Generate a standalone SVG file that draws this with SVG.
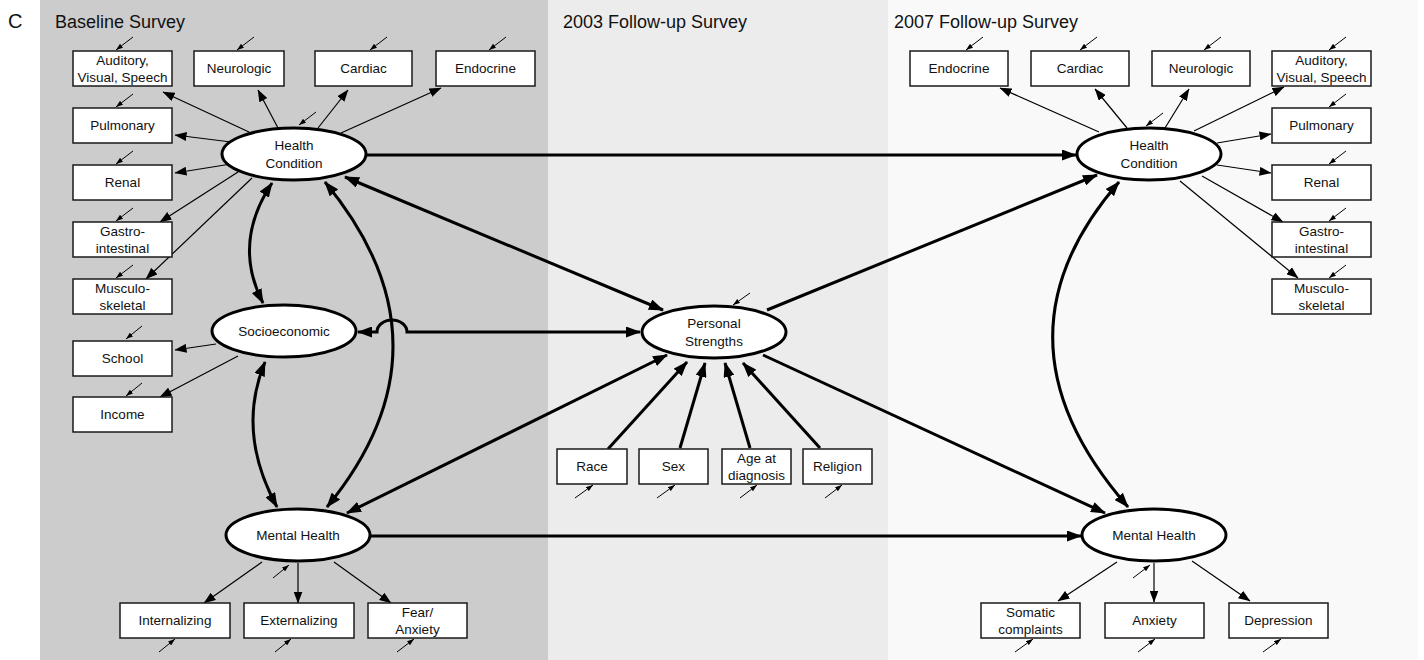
<svg xmlns="http://www.w3.org/2000/svg" width="1424" height="660" viewBox="0 0 1424 660">
<style>
.box{fill:#fff;stroke:#1a1a1a;stroke-width:1.5}
.ell{fill:#fff;stroke:#000;stroke-width:3}
.lbl{font-family:"Liberation Sans",Arial,sans-serif;font-size:13.5px;text-anchor:middle;fill:#111}
.ttl{font-family:"Liberation Sans",Arial,sans-serif;font-size:18px;fill:#111}
.thick{stroke:#000;stroke-width:3;fill:none}
.thin{stroke:#000;stroke-width:1.2;fill:none}
.err{stroke:#000;stroke-width:1;fill:none}
</style>
<defs>
<marker id="ah" markerUnits="userSpaceOnUse" viewBox="0 0 15 11" markerWidth="15" markerHeight="11" refX="14" refY="5.5" orient="auto-start-reverse"><path d="M0,0 L15,5.5 L0,11 z" fill="#000"/></marker>
<marker id="at" markerUnits="userSpaceOnUse" viewBox="0 0 12 9" markerWidth="12" markerHeight="9" refX="11.5" refY="4.5" orient="auto-start-reverse"><path d="M0,0 L12,4.5 L0,9 z" fill="#000"/></marker>
<marker id="ae" markerUnits="userSpaceOnUse" viewBox="0 0 7 5" markerWidth="7" markerHeight="5" refX="7" refY="2.5" orient="auto"><path d="M0,0 L7,2.5 L0,5 z" fill="#000"/></marker>
</defs>

<g id="panels">
<rect x="40" y="0" width="508" height="660" fill="#cccccc"/>
<rect x="548" y="0" width="340" height="660" fill="#ececec"/>
<rect x="888" y="0" width="530" height="660" fill="#f9f9f9"/>
<text class="ttl" x="8" y="28" style="font-size:20px">C</text>
<text class="ttl" x="55" y="28">Baseline Survey</text>
<text class="ttl" x="563" y="28">2003 Follow-up Survey</text>
<text class="ttl" x="894" y="28">2007 Follow-up Survey</text>
</g>

<g id="connectors">
<!-- thick structural paths -->
<path class="thick" d="M366,155 L1076,155" marker-end="url(#ah)"/>
<path class="thick" d="M371,536 L1081,536" marker-end="url(#ah)"/>
<path class="thick" d="M358,332 L377,332 A15,12 0 0 1 407,332 L640,332" marker-start="url(#ah)" marker-end="url(#ah)"/>
<path class="thick" d="M345,177 L663,310" marker-start="url(#ah)" marker-end="url(#ah)"/>
<path class="thick" d="M667,355 L347,513" marker-start="url(#ah)" marker-end="url(#ah)"/>
<path class="thick" d="M767,310 L1097,175" marker-end="url(#ah)"/>
<path class="thick" d="M763,355 L1105,513" marker-end="url(#ah)"/>
<path class="thick" d="M608,449 L687,362" marker-end="url(#ah)"/>
<path class="thick" d="M680,448 L705,363" marker-end="url(#ah)"/>
<path class="thick" d="M750,448 L725,363" marker-end="url(#ah)"/>
<path class="thick" d="M820,448 L743,363" marker-end="url(#ah)"/>
<path class="thick" d="M272,183 Q232,243 263,303" marker-start="url(#ah)" marker-end="url(#ah)"/>
<path class="thick" d="M265,362 Q236,432 277,507" marker-start="url(#ah)" marker-end="url(#ah)"/>
<path class="thick" d="M325,182 Q460,345 327,507" marker-start="url(#ah)" marker-end="url(#ah)"/>
<path class="thick" d="M1119,182 Q982,340 1128,507" marker-start="url(#ah)" marker-end="url(#ah)"/>
<!-- thin indicator paths, left -->
<path class="thin" d="M249,132 L163,92" marker-end="url(#at)"/>
<path class="thin" d="M278,128 L258,90" marker-end="url(#at)"/>
<path class="thin" d="M318,128 L348,90" marker-end="url(#at)"/>
<path class="thin" d="M341,133 L441,88" marker-end="url(#at)"/>
<path class="thin" d="M231,142 L175,135" marker-end="url(#at)"/>
<path class="thin" d="M231,164 L175,173" marker-end="url(#at)"/>
<path class="thin" d="M238,172 L160,222" marker-end="url(#at)"/>
<path class="thin" d="M252,178 L146,279" marker-end="url(#at)"/>
<path class="thin" d="M216,344 L175,350" marker-end="url(#at)"/>
<path class="thin" d="M238,356 L160,397" marker-end="url(#at)"/>
<path class="thin" d="M262,562 L204,603" marker-end="url(#at)"/>
<path class="thin" d="M298,563 L298,603" marker-end="url(#at)"/>
<path class="thin" d="M334,562 L391,603" marker-end="url(#at)"/>
<!-- thin indicator paths, right -->
<path class="thin" d="M1099,132 L1000,88" marker-end="url(#at)"/>
<path class="thin" d="M1127,128 L1095,89" marker-end="url(#at)"/>
<path class="thin" d="M1165,128 L1189,89" marker-end="url(#at)"/>
<path class="thin" d="M1194,131 L1284,87" marker-end="url(#at)"/>
<path class="thin" d="M1217,143 L1271,134" marker-end="url(#at)"/>
<path class="thin" d="M1217,165 L1271,173" marker-end="url(#at)"/>
<path class="thin" d="M1202,176 L1283,222" marker-end="url(#at)"/>
<path class="thin" d="M1180,181 L1298,278" marker-end="url(#at)"/>
<path class="thin" d="M1117,562 L1058,601" marker-end="url(#at)"/>
<path class="thin" d="M1154,563 L1154,602" marker-end="url(#at)"/>
<path class="thin" d="M1192,561 L1250,601" marker-end="url(#at)"/>
<!-- error terms -->
<path class="err" d="M133,37 L116,50" marker-end="url(#ae)"/>
<path class="err" d="M254,37 L237,50" marker-end="url(#ae)"/>
<path class="err" d="M387,37 L370,50" marker-end="url(#ae)"/>
<path class="err" d="M506,37 L489,50" marker-end="url(#ae)"/>
<path class="err" d="M316,112 L299,125" marker-end="url(#ae)"/>
<path class="err" d="M133,94 L116,107" marker-end="url(#ae)"/>
<path class="err" d="M133,151 L116,164" marker-end="url(#ae)"/>
<path class="err" d="M133,208 L116,221" marker-end="url(#ae)"/>
<path class="err" d="M133,265 L116,278" marker-end="url(#ae)"/>
<path class="err" d="M142,326 L126,339" marker-end="url(#ae)"/>
<path class="err" d="M142,383 L126,396" marker-end="url(#ae)"/>
<path class="err" d="M159,652 L175,639" marker-end="url(#ae)"/>
<path class="err" d="M275,652 L291,639" marker-end="url(#ae)"/>
<path class="err" d="M397,652 L414,639" marker-end="url(#ae)"/>
<path class="err" d="M273,578 L289,565" marker-end="url(#ae)"/>
<path class="err" d="M750,293 L733,305" marker-end="url(#ae)"/>
<path class="err" d="M575,498 L593,485" marker-end="url(#ae)"/>
<path class="err" d="M657,498 L675,485" marker-end="url(#ae)"/>
<path class="err" d="M740,498 L757,485" marker-end="url(#ae)"/>
<path class="err" d="M825,498 L842,485" marker-end="url(#ae)"/>
<path class="err" d="M983,37 L966,50" marker-end="url(#ae)"/>
<path class="err" d="M1097,37 L1080,50" marker-end="url(#ae)"/>
<path class="err" d="M1221,37 L1204,50" marker-end="url(#ae)"/>
<path class="err" d="M1346,37 L1329,50" marker-end="url(#ae)"/>
<path class="err" d="M1163,113 L1146,126" marker-end="url(#ae)"/>
<path class="err" d="M1346,94 L1329,107" marker-end="url(#ae)"/>
<path class="err" d="M1346,151 L1329,164" marker-end="url(#ae)"/>
<path class="err" d="M1346,208 L1329,221" marker-end="url(#ae)"/>
<path class="err" d="M1346,265 L1329,278" marker-end="url(#ae)"/>
<path class="err" d="M1015,652 L1033,639" marker-end="url(#ae)"/>
<path class="err" d="M1138,652 L1155,639" marker-end="url(#ae)"/>
<path class="err" d="M1263,652 L1281,639" marker-end="url(#ae)"/>
<path class="err" d="M1133,578 L1150,565" marker-end="url(#ae)"/>
</g>

<!-- Baseline latent variables -->
<g id="hc-base"><ellipse class="ell" cx="294" cy="154" rx="72" ry="26"/><text class="lbl" x="294" y="150">Health</text><text class="lbl" x="294" y="168">Condition</text></g>
<g id="se-base"><ellipse class="ell" cx="284" cy="331" rx="72" ry="26"/><text class="lbl" x="284" y="336">Socioeconomic</text></g>
<g id="mh-base"><ellipse class="ell" cx="298" cy="535" rx="72" ry="26"/><text class="lbl" x="298" y="540">Mental Health</text></g>
<g id="ps"><ellipse class="ell" cx="714" cy="332" rx="72" ry="26"/><text class="lbl" x="714" y="328">Personal</text><text class="lbl" x="714" y="346">Strengths</text></g>
<g id="hc-2007"><ellipse class="ell" cx="1149" cy="154" rx="72" ry="26"/><text class="lbl" x="1149" y="150">Health</text><text class="lbl" x="1149" y="168">Condition</text></g>
<g id="mh-2007"><ellipse class="ell" cx="1154" cy="535" rx="72" ry="26"/><text class="lbl" x="1154" y="540">Mental Health</text></g>

<!-- Baseline indicators -->
<g id="b-aud"><rect class="box" x="73" y="51" width="99" height="35"/><text class="lbl" x="122.5" y="65">Auditory,</text><text class="lbl" x="122.5" y="82">Visual, Speech</text></g>
<g id="b-neu"><rect class="box" x="194" y="51" width="90" height="35"/><text class="lbl" x="239" y="73">Neurologic</text></g>
<g id="b-car"><rect class="box" x="315" y="51" width="97" height="35"/><text class="lbl" x="363.5" y="73">Cardiac</text></g>
<g id="b-end"><rect class="box" x="436" y="51" width="99" height="35"/><text class="lbl" x="485.5" y="73">Endocrine</text></g>
<g id="b-pul"><rect class="box" x="73" y="108" width="99" height="35"/><text class="lbl" x="122.5" y="130">Pulmonary</text></g>
<g id="b-ren"><rect class="box" x="73" y="165" width="99" height="35"/><text class="lbl" x="122.5" y="187">Renal</text></g>
<g id="b-gas"><rect class="box" x="73" y="222" width="99" height="35"/><text class="lbl" x="122.5" y="236">Gastro-</text><text class="lbl" x="122.5" y="253">intestinal</text></g>
<g id="b-mus"><rect class="box" x="73" y="279" width="99" height="35"/><text class="lbl" x="122.5" y="293">Musculo-</text><text class="lbl" x="122.5" y="310">skeletal</text></g>
<g id="b-sch"><rect class="box" x="73" y="341" width="99" height="35"/><text class="lbl" x="122.5" y="363">School</text></g>
<g id="b-inc"><rect class="box" x="73" y="397" width="99" height="35"/><text class="lbl" x="122.5" y="419">Income</text></g>
<g id="b-int"><rect class="box" x="120" y="603" width="110" height="35"/><text class="lbl" x="175" y="625">Internalizing</text></g>
<g id="b-ext"><rect class="box" x="244" y="603" width="110" height="35"/><text class="lbl" x="299" y="625">Externalizing</text></g>
<g id="b-fear"><rect class="box" x="368" y="603" width="99" height="35"/><text class="lbl" x="417.5" y="617">Fear/</text><text class="lbl" x="417.5" y="634">Anxiety</text></g>

<!-- 2003 predictors -->
<g id="m-race"><rect class="box" x="557" y="449" width="70" height="35"/><text class="lbl" x="592" y="471">Race</text></g>
<g id="m-sex"><rect class="box" x="639" y="449" width="69" height="35"/><text class="lbl" x="673.5" y="471">Sex</text></g>
<g id="m-age"><rect class="box" x="722" y="449" width="69" height="35"/><text class="lbl" x="756.5" y="463">Age at</text><text class="lbl" x="756.5" y="480">diagnosis</text></g>
<g id="m-rel"><rect class="box" x="803" y="449" width="69" height="35"/><text class="lbl" x="837.5" y="471">Religion</text></g>

<!-- 2007 indicators -->
<g id="r-end"><rect class="box" x="910" y="51" width="98" height="35"/><text class="lbl" x="959" y="73">Endocrine</text></g>
<g id="r-car"><rect class="box" x="1031" y="51" width="98" height="35"/><text class="lbl" x="1080" y="73">Cardiac</text></g>
<g id="r-neu"><rect class="box" x="1152" y="51" width="98" height="35"/><text class="lbl" x="1201" y="73">Neurologic</text></g>
<g id="r-aud"><rect class="box" x="1272" y="51" width="99" height="35"/><text class="lbl" x="1321.5" y="65">Auditory,</text><text class="lbl" x="1321.5" y="82">Visual, Speech</text></g>
<g id="r-pul"><rect class="box" x="1272" y="108" width="99" height="35"/><text class="lbl" x="1321.5" y="130">Pulmonary</text></g>
<g id="r-ren"><rect class="box" x="1272" y="165" width="99" height="35"/><text class="lbl" x="1321.5" y="187">Renal</text></g>
<g id="r-gas"><rect class="box" x="1272" y="222" width="99" height="35"/><text class="lbl" x="1321.5" y="236">Gastro-</text><text class="lbl" x="1321.5" y="253">intestinal</text></g>
<g id="r-mus"><rect class="box" x="1272" y="279" width="99" height="35"/><text class="lbl" x="1321.5" y="293">Musculo-</text><text class="lbl" x="1321.5" y="310">skeletal</text></g>
<g id="r-som"><rect class="box" x="981" y="603" width="99" height="35"/><text class="lbl" x="1030.5" y="617">Somatic</text><text class="lbl" x="1030.5" y="634">complaints</text></g>
<g id="r-anx"><rect class="box" x="1105" y="603" width="99" height="35"/><text class="lbl" x="1154.5" y="625">Anxiety</text></g>
<g id="r-dep"><rect class="box" x="1229" y="603" width="99" height="35"/><text class="lbl" x="1278.5" y="625">Depression</text></g>
</svg>
